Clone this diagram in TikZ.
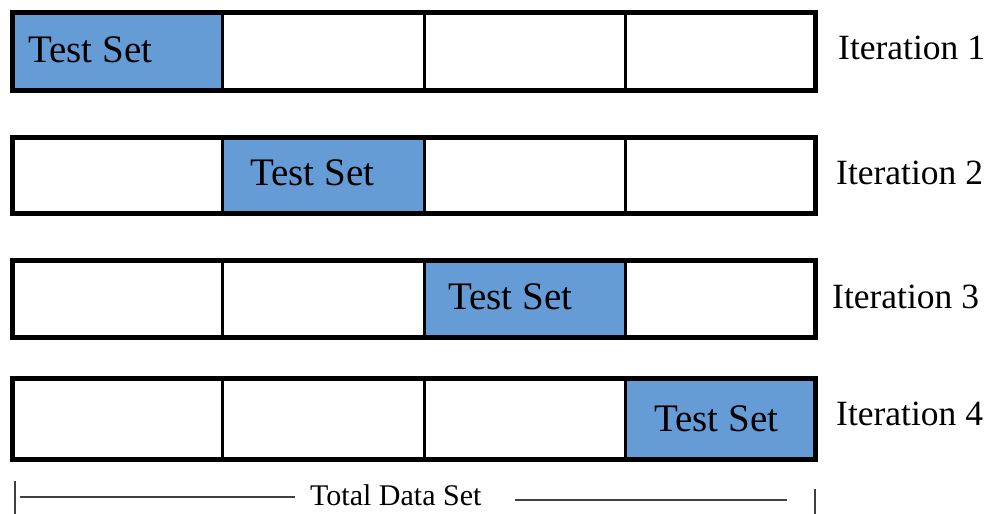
\documentclass[tikz,border=0pt]{standalone}
\usepackage{fontspec}
\setmainfont{Liberation Serif}
\usepackage{tikz}
\usetikzlibrary{positioning, calc}

\definecolor{testblue}{RGB}{101,156,214}

\begin{document}
\begin{tikzpicture}[x=1pt, y=-1pt,
  cell/.style={draw, line width=3pt, inner sep=0, outer sep=0, fill=white},
  testcell/.style={cell, fill=testblue},
  lbl/.style={inner sep=0, anchor=base west}]
\useasboundingbox (0,0) rectangle (994,514);

% rows of folds
\foreach \r/\ya/\yb in {1/12/90, 2/137/213, 3/260/337, 4/378/459}{
  \foreach \c/\xa/\xb in {1/12/222, 2/222/424, 3/424/625, 4/625/815}{
    \ifnum\r=\c
      \node(c\r\c)[testcell, minimum width={(\xb-\xa)*1pt}, minimum height={(\yb-\ya)*1pt}] at ({(\xa+\xb)/2},{(\ya+\yb)/2}) {};
    \else
      \node(c\r\c)[cell, minimum width={(\xb-\xa)*1pt}, minimum height={(\yb-\ya)*1pt}] at ({(\xa+\xb)/2},{(\ya+\yb)/2}) {};
    \fi
  }
  \draw[line width=5pt] (c\r1.north west) rectangle (c\r4.south east);
}

\node(t1)[lbl] at (28,62) {\fontsize{39}{41}\selectfont Test Set};
\node(t2)[lbl] at (250,185) {\fontsize{39}{41}\selectfont Test Set};
\node(t3)[lbl] at (448,309) {\fontsize{39}{41}\selectfont Test Set};
\node(t4)[lbl] at (654,431) {\fontsize{39}{41}\selectfont Test Set};

\node(it1)[lbl] at (838,59) {\fontsize{35.5}{37}\selectfont Iteration 1};
\node(it2)[lbl] at (836,184) {\fontsize{35.5}{37}\selectfont Iteration 2};
\node(it3)[lbl] at (832,308) {\fontsize{35.5}{37}\selectfont Iteration 3};
\node(it4)[lbl] at (836,425) {\fontsize{35.5}{37}\selectfont Iteration 4};

% total data set span
\node(tds)[lbl] at (310,505) {\fontsize{30}{32}\selectfont Total Data Set};
\coordinate (la) at (20,497);
\coordinate (lb) at (295,497);
\coordinate (ra) at (515,500);
\coordinate (rb) at (787,500);
\begin{scope}[line width=1.5pt, black!75]
\draw (15,481) -- (15,514);
\draw (la) -- (lb);
\draw (ra) -- (rb);
\draw (815,489) -- (815,514);
\end{scope}
\end{tikzpicture}
\end{document}
